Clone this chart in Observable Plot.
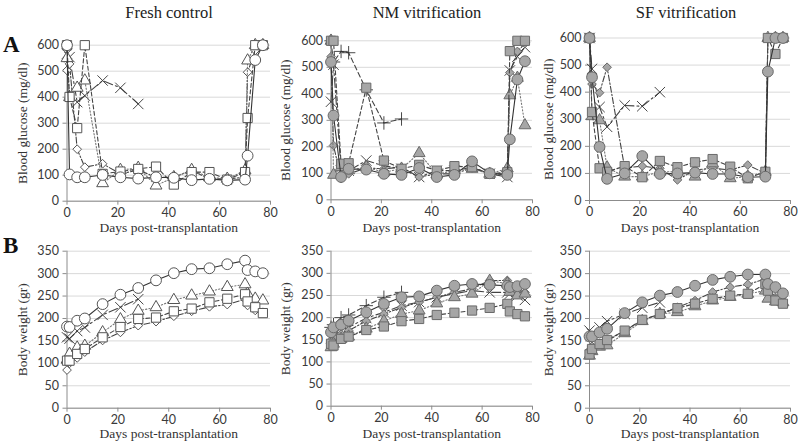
<!DOCTYPE html>
<html><head><meta charset="utf-8">
<script src="https://cdn.jsdelivr.net/npm/d3@7"></script>
<script src="https://cdn.jsdelivr.net/npm/@observablehq/plot@0.6"></script>
<style>
body{margin:0;background:#fff}
#wrap{position:relative;width:800px;height:443px;overflow:hidden;background:#fff}
.ttl{position:absolute;font-family:"Liberation Serif",serif;font-size:16.5px;line-height:18px;color:#222;transform:translateX(-50%);white-space:nowrap}
.let{position:absolute;font-family:"Liberation Serif",serif;font-weight:bold;font-size:23px;line-height:23px;color:#111}
</style></head><body><div id="wrap"></div>
<script>
// ---------- data ----------
const days = [0,1,4,7,14,21,28,35,42,49,56,63,70,71,74,77];
const daysShort = [0,1,4,7,14,21,28];
const groups = ["Fresh control","NM vitrification","SF vitrification"];
const glucoseTicks = [0,100,200,300,400,500,600];
const weightTicks = [0,50,100,150,200,250,300,350];
const xTicks = [0,20,40,60,80];

// Blood glucose, fresh control
const gluFreshCircle   = [600,103,92,92,101,92,87,92,90,81,86,80,83,175,543,600];
const gluFreshSquare   = [600,401,281,600,105,114,124,133,64,112,112,83,112,320,600,600];
const gluFreshTriangle = [550,400,436,464,69,120,128,60,92,120,92,86,118,541,600,600];
const gluFreshDiamond  = [503,528,200,131,144,105,120,92,92,118,86,86,92,496,580,600];
const gluFreshTimes    = [567,554,381,406,464,436,374];
// Blood glucose, NM vitrification
const gluNMCircle   = [520,318,86,117,114,98,94,120,86,94,145,100,94,228,454,523];
const gluNMSquare   = [600,600,136,138,423,148,117,132,110,127,123,98,104,561,600,600];
const gluNMTriangle = [600,94,123,111,123,104,117,176,96,111,117,98,118,394,460,281];
const gluNMDiamond  = [540,205,80,98,120,117,123,86,98,98,120,98,98,480,560,590];
const gluNMTimes    = [370,510,110,110,148,128,117,86,110,110,123,98,86,488,540,576];
const gluNMPlus     = [600,520,560,555,415,290,305];
// Blood glucose, SF vitrification
const gluSFCircle   = [600,455,198,80,100,164,98,100,103,98,98,86,88,476,600,600];
const gluSFSquare   = [600,327,119,106,127,86,146,123,141,153,125,82,106,600,541,600];
const gluSFTriangle = [600,311,296,122,88,88,106,106,88,137,82,88,106,600,600,600];
const gluSFDiamond  = [600,430,398,492,120,127,119,76,113,119,113,131,100,600,600,600];
const gluSFTimes    = [600,486,345,272,351,348,400];
// Body weight, fresh control
const bwFreshCircle   = [182,181,195,200,232,253,268,285,301,310,312,321,329,308,305,301];
const bwFreshTimes    = [158,155,172,180,208,225,243];
const bwFreshTriangle = [108,121,135,139,169,198,217,225,241,251,260,270,276,255,244,240];
const bwFreshSquare   = [106,106,121,132,158,181,199,202,216,222,236,244,254,238,225,212];
const bwFreshDiamond  = [85,100,112,125,151,169,184,193,205,216,226,231,243,229,218,214];
// Body weight, NM vitrification
const bwNMCircle   = [167,178,184,193,212,231,246,248,261,272,276,274,272,269,271,276];
const bwNMPlus     = [178,184,200,206,227,246,257];
const bwNMTimes    = [154,160,171,178,199,212,227,235,246,254,261,257,257,254,250,240];
const bwNMDiamond  = [148,156,163,171,192,208,223,235,246,257,265,284,284,269,261,257];
const bwNMTriangle = [133,141,152,157,175,192,208,216,232,246,254,283,277,258,250,254];
const bwNMSquare   = [141,137,152,157,172,180,192,197,206,211,216,222,231,214,208,203];
// Body weight, SF vitrification
const bwSFCircle   = [160,160,169,177,212,236,251,259,273,286,293,298,298,277,270,256];
const bwSFTimes    = [173,166,180,194,210,224,236];
const bwSFDiamond  = [129,138,145,150,173,196,210,225,240,259,270,276,288,270,247,240];
const bwSFSquare   = [120,132,143,152,173,197,210,223,233,244,251,255,277,262,240,233];
const bwSFTriangle = [117,127,137,140,167,194,210,214,227,240,248,255,262,244,238,236];

// ---------- styling ----------
const STYLE = {
  circle:   {symbol:"circle",   r:5.4, dash:null,          line:"#333"},
  square:   {symbol:"square",   r:5.2, dash:"4,2.5",       line:"#444"},
  triangle: {symbol:"triangle", r:4.4, dash:"1.3,2",       line:"#777"},
  diamond:  {symbol:"diamond2", r:3.9, dash:"6,2,1.5,2",   line:"#444"},
  times:    {symbol:"times",    r:4.8, dash:"9,3,2,3",     line:"#444"},
  plus:     {symbol:"plus",     r:4.4, dash:"5,3",         line:"#444"}
};

function rows(values){
  const d = values.length === days.length ? days : daysShort;
  return values.map((v,i)=>({day:d[i], value:v}));
}

function panel(cfg){
  const W = cfg.width, H = cfg.height;
  const mL = cfg.x0 - cfg.left, mR = cfg.left + W - cfg.x1;
  const mT = cfg.yTopPx - cfg.top, mB = cfg.top + H - cfg.yBotPx;
  const marks = [
    Plot.gridY(cfg.yTicks, {stroke:"#d9d9d9", strokeOpacity:1, strokeWidth:1}),
    Plot.axisY(cfg.yTicks, {tickSize:4, tickPadding:4, label:null, stroke:"#8c8c8c", fill:"#3a3a3a"}),
    Plot.axisX(xTicks, {tickSize:4, tickPadding:3, label:null, stroke:"#8c8c8c", fill:"#3a3a3a"}),
    Plot.ruleY([0], {stroke:"#8c8c8c"}),
    Plot.ruleX([0], {stroke:"#8c8c8c"})
  ];
  for (const s of cfg.series){
    const st = STYLE[s.kind];
    const data = rows(s.values);
    marks.push(Plot.line(data, {x:"day", y:"value", stroke:st.line, strokeWidth:1.1, strokeDasharray:st.dash || undefined}));
    const strokeOnly = s.kind === "times" || s.kind === "plus";
    marks.push(Plot.dot(data, {x:"day", y:"value", symbol:st.symbol, r:st.r,
      fill: strokeOnly ? "none" : cfg.fill,
      stroke: strokeOnly ? "#333" : cfg.markStroke, strokeWidth: strokeOnly ? 0.9 : 1}));
  }
  marks.push(Plot.text([cfg.ylabel], {text:d=>d, frameAnchor:"left", dx: cfg.ylabX - cfg.x0, rotate:-90,
    textAnchor:"middle", lineAnchor:"middle", fontFamily:"Liberation Serif", fontSize:13.5, fill:"#333"}));
  marks.push(Plot.text(["Days post-transplantation"], {text:d=>d, frameAnchor:"bottom", dy: cfg.xlabY - cfg.yBotPx,
    textAnchor:"middle", lineAnchor:"middle", fontFamily:"Liberation Serif", fontSize:13.5, fill:"#333"}));
  const svg = Plot.plot({
    width:W, height:H, marginLeft:mL, marginRight:mR, marginTop:mT, marginBottom:mB,
    x:{domain:[0,80]}, y:{domain:cfg.yDomain},
    style:{fontFamily:"Lato, sans-serif", fontSize:"12.5px", overflow:"visible", background:"transparent"},
    marks
  });
  svg.style.position = "absolute";
  svg.style.left = cfg.left + "px";
  svg.style.top = cfg.top + "px";
  return svg;
}

const wrap = document.getElementById("wrap");
const whiteFill = {fill:"#ffffff", markStroke:"#555"};
const grayFill = {fill:"#a6a6a6", markStroke:"#6a6a6a"};
const cols = [
  {left:0,   width:280, x0:66.5, x1:270, ylabX:22,  ...whiteFill},
  {left:280, width:262, x0:330.5, x1:532, ylabX:285, ...grayFill},
  {left:542, width:258, x0:589, x1:790, ylabX:548, ...grayFill}
];
const gluSeries = [
  [{kind:"times",values:gluFreshTimes},{kind:"diamond",values:gluFreshDiamond},{kind:"triangle",values:gluFreshTriangle},{kind:"square",values:gluFreshSquare},{kind:"circle",values:gluFreshCircle}],
  [{kind:"plus",values:gluNMPlus},{kind:"times",values:gluNMTimes},{kind:"diamond",values:gluNMDiamond},{kind:"triangle",values:gluNMTriangle},{kind:"square",values:gluNMSquare},{kind:"circle",values:gluNMCircle}],
  [{kind:"times",values:gluSFTimes},{kind:"diamond",values:gluSFDiamond},{kind:"triangle",values:gluSFTriangle},{kind:"square",values:gluSFSquare},{kind:"circle",values:gluSFCircle}]
];
const bwSeries = [
  [{kind:"times",values:bwFreshTimes},{kind:"diamond",values:bwFreshDiamond},{kind:"triangle",values:bwFreshTriangle},{kind:"square",values:bwFreshSquare},{kind:"circle",values:bwFreshCircle}],
  [{kind:"plus",values:bwNMPlus},{kind:"times",values:bwNMTimes},{kind:"diamond",values:bwNMDiamond},{kind:"triangle",values:bwNMTriangle},{kind:"square",values:bwNMSquare},{kind:"circle",values:bwNMCircle}],
  [{kind:"times",values:bwSFTimes},{kind:"diamond",values:bwSFDiamond},{kind:"triangle",values:bwSFTriangle},{kind:"square",values:bwSFSquare},{kind:"circle",values:bwSFCircle}]
];
const gluTop = [44.7, 40.3, 37.5];
const gluBot = [200.7, 199.3, 200];
const bwBot = [407.7, 405.7, 407.7];
cols.forEach((c,i)=>{
  wrap.appendChild(panel({...c, top:26, height:212, yTopPx:gluTop[i], yBotPx:gluBot[i], xlabY:227,
    yDomain:[0,600], yTicks:glucoseTicks, ylabel:"Blood glucose (mg/dl)", series:gluSeries[i]}));
  wrap.appendChild(panel({...c, top:238, height:205, yTopPx:250.7, yBotPx:bwBot[i], xlabY:433,
    yDomain:[0,350], yTicks:weightTicks, ylabel:"Body weight (gr)", series:bwSeries[i]}));
});
const titleX = [169, 427, 686];
groups.forEach((g,i)=>{
  const d = document.createElement("div");
  d.className = "ttl"; d.textContent = g;
  d.style.left = titleX[i] + "px"; d.style.top = "4px";
  wrap.appendChild(d);
});
[["A",33],["B",234]].forEach(([t,y])=>{
  const d = document.createElement("div");
  d.className = "let"; d.textContent = t;
  d.style.left = "3px"; d.style.top = y + "px";
  wrap.appendChild(d);
});
</script></body></html>
